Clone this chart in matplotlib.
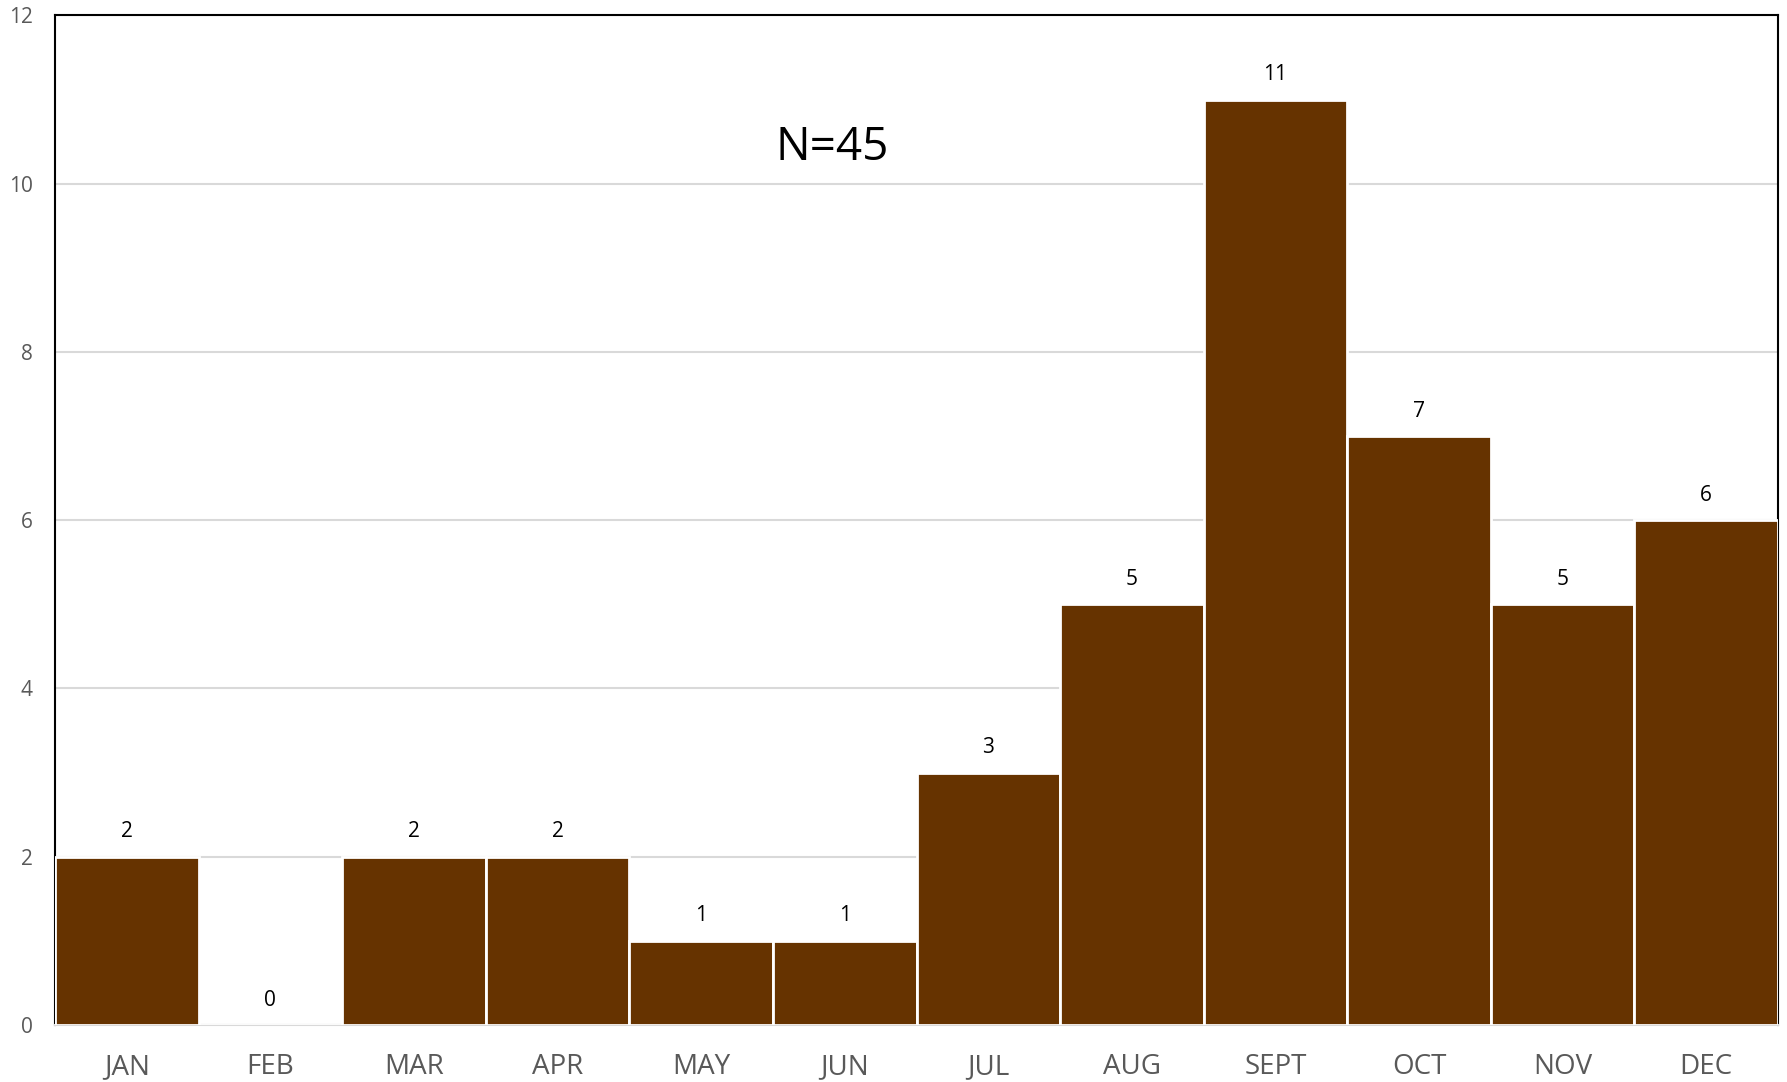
import numpy as np
import matplotlib
matplotlib.use("Agg")
import matplotlib.pyplot as plt

months = ["JAN", "FEB", "MAR", "APR", "MAY", "JUN", "JUL", "AUG", "SEPT", "OCT", "NOV", "DEC"]
counts = [2, 0, 2, 2, 1, 1, 3, 5, 11, 7, 5, 6]
yticks = [0, 2, 4, 6, 8, 10, 12]
note = "N=45"

plt.rcParams['font.family'] = ['Open Sans', 'DejaVu Sans']

fig = plt.figure(figsize=(17.87, 10.82), dpi=100)
ax = fig.add_axes([0.0308, 0.0527, 0.9642, 0.933])

x = np.arange(len(months))
bars = ax.bar(x, counts, width=1.0, color="#663300", edgecolor="white", linewidth=2, zorder=3)

for xi, v in zip(x, counts):
    ax.annotate(str(v), (xi, v), xytext=(0, 14), textcoords="offset points",
                ha="center", va="baseline", fontsize=15, color="black", zorder=4)

ax.text(4.91, 10.42, note, ha="center", va="center", fontsize=33, color="black")

ax.set_xlim(-0.5, 11.5)
ax.set_ylim(0, 12)
ax.set_yticks(yticks)
ax.set_xticks(x)
ax.set_xticklabels(months)
ax.tick_params(axis="x", length=0, pad=20, labelsize=20, labelcolor="#595959")
ax.tick_params(axis="y", length=0, pad=16, labelsize=15, labelcolor="#595959")
ax.yaxis.grid(True, color="#d9d9d9", linewidth=1.5, zorder=0)
ax.set_axisbelow(True)

for s in ["top", "left", "right"]:
    ax.spines[s].set_color("black")
    ax.spines[s].set_linewidth(1.5)
    ax.spines[s].set_zorder(2)
ax.spines["bottom"].set_color("#d9d9d9")
ax.spines["bottom"].set_linewidth(1.5)
ax.spines["bottom"].set_zorder(2)

fig.savefig("out.png", dpi=100)
